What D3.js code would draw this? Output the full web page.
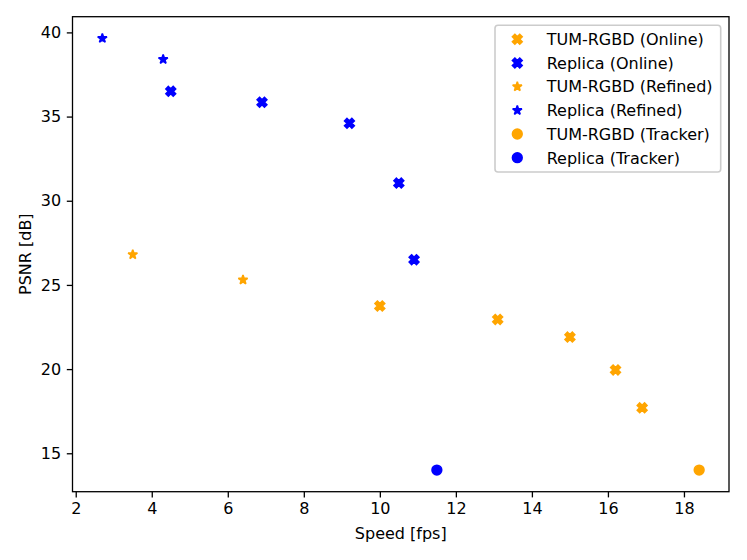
<!DOCTYPE html>
<html>
<head>
<meta charset="utf-8">
<script src="https://cdn.jsdelivr.net/npm/d3@7"></script>
<style>
  body { margin: 0; background: #fff; }
  svg { display: block; font-family: "DejaVu Sans", sans-serif; }
</style>
</head>
<body>
<svg width="747" height="560"></svg>
<script>
// data
const tumOnlineSpeed = [10.0, 13.1, 15.0, 16.2, 16.9];
const tumOnlinePsnr = [23.75, 22.95, 21.9, 19.95, 17.7];
const replicaOnlineSpeed = [4.5, 6.9, 9.2, 10.5, 10.9];
const replicaOnlinePsnr = [36.5, 35.85, 34.6, 31.05, 26.5];
const tumRefinedSpeed = [3.5, 6.4];
const tumRefinedPsnr = [26.8, 25.3];
const replicaRefinedSpeed = [2.7, 4.3];
const replicaRefinedPsnr = [39.65, 38.4];
const tumTrackerSpeed = [18.4];
const tumTrackerPsnr = [14.0];
const replicaTrackerSpeed = [11.5];
const replicaTrackerPsnr = [14.0];

const xTicks = [2, 4, 6, 8, 10, 12, 14, 16, 18];
const yTicks = [15, 20, 25, 30, 35, 40];

const ORANGE = "#ffa500";
const BLUE = "#0000ff";

const series = [
  { name: "TUM-RGBD (Online)", xs: tumOnlineSpeed, ys: tumOnlinePsnr, color: ORANGE, marker: "x" },
  { name: "Replica (Online)", xs: replicaOnlineSpeed, ys: replicaOnlinePsnr, color: BLUE, marker: "x" },
  { name: "TUM-RGBD (Refined)", xs: tumRefinedSpeed, ys: tumRefinedPsnr, color: ORANGE, marker: "star" },
  { name: "Replica (Refined)", xs: replicaRefinedSpeed, ys: replicaRefinedPsnr, color: BLUE, marker: "star" },
  { name: "TUM-RGBD (Tracker)", xs: tumTrackerSpeed, ys: tumTrackerPsnr, color: ORANGE, marker: "circle" },
  { name: "Replica (Tracker)", xs: replicaTrackerSpeed, ys: replicaTrackerPsnr, color: BLUE, marker: "circle" }
];

const svg = d3.select("svg");
const plotLeft = 72.5, plotRight = 729, plotTop = 16.7, plotBottom = 491.7;
const fontSize = 16;
const ms = 9.72;      // 6pt marker at ~117 dpi
const edge = 1.6;

// matplotlib-like 5% margins
const allX = series.flatMap(s => s.xs);
const allY = series.flatMap(s => s.ys);
const [x0, x1] = d3.extent(allX);
const [y0, y1] = d3.extent(allY);
const mx = (x1 - x0) * 0.05, my = (y1 - y0) * 0.05;

const x = d3.scaleLinear().domain([x0 - mx, x1 + mx]).range([plotLeft, plotRight]);
const y = d3.scaleLinear().domain([y0 - my, y1 + my]).range([plotBottom, plotTop]);

function markerPath(kind) {
  if (kind === "x") {
    const v = [[-1, -2], [0, -1], [1, -2], [2, -1], [1, 0], [2, 1],
               [1, 2], [0, 1], [-1, 2], [-2, 1], [-1, 0], [-2, -1]];
    return "M" + v.map(p => [p[0] / 4 * ms, p[1] / 4 * ms].join(",")).join("L") + "Z";
  }
  if (kind === "star") {
    const pts = [];
    for (let i = 0; i < 10; i++) {
      const r = (i % 2 === 0 ? 1 : 0.381966) * ms / 2;
      const a = Math.PI / 2 + i * Math.PI / 5;
      pts.push([r * Math.cos(a), -r * Math.sin(a)]);
    }
    return "M" + pts.map(p => p.join(",")).join("L") + "Z";
  }
  const r = ms / 2;
  return `M${r},0A${r},${r} 0 1,1 ${-r},0A${r},${r} 0 1,1 ${r},0Z`;
}

// axes
const xAxis = d3.axisBottom(x).tickValues(xTicks).tickSize(5.7).tickPadding(5.7).tickFormat(d3.format("d"));
const yAxis = d3.axisLeft(y).tickValues(yTicks).tickSize(5.7).tickPadding(5.7).tickFormat(d3.format("d"));

const gx = svg.append("g").attr("transform", `translate(0,${plotBottom})`).call(xAxis);
const gy = svg.append("g").attr("transform", `translate(${plotLeft},0)`).call(yAxis);
[gx, gy].forEach(g => {
  g.select(".domain").remove();
  g.selectAll(".tick line").attr("stroke", "#000").attr("stroke-width", 1.3);
  g.selectAll(".tick text").attr("fill", "#000").style("font-size", fontSize + "px")
    .style("font-family", "DejaVu Sans");
});

// points
series.forEach(s => {
  svg.append("g")
    .selectAll("path")
    .data(s.xs.map((v, i) => [v, s.ys[i]]))
    .join("path")
    .attr("d", markerPath(s.marker))
    .attr("transform", d => `translate(${x(d[0])},${y(d[1])})`)
    .attr("fill", s.color)
    .attr("stroke", s.color)
    .attr("stroke-width", edge)
    .attr("stroke-linejoin", s.marker === "star" ? "bevel" : "miter");
});

// frame
svg.append("rect")
  .attr("x", plotLeft).attr("y", plotTop)
  .attr("width", plotRight - plotLeft).attr("height", plotBottom - plotTop)
  .attr("fill", "none").attr("stroke", "#000").attr("stroke-width", 1.3);

// labels
svg.append("text")
  .attr("x", (plotLeft + plotRight) / 2).attr("y", 539)
  .attr("text-anchor", "middle").style("font-size", fontSize + "px")
  .text("Speed [fps]");

svg.append("text")
  .attr("transform", `translate(31,${(plotTop + plotBottom) / 2}) rotate(-90)`)
  .attr("text-anchor", "middle").style("font-size", fontSize + "px")
  .text("PSNR [dB]");

// legend
const lg = svg.append("g");
lg.append("rect")
  .attr("x", 495).attr("y", 25.3)
  .attr("width", 225.7).attr("height", 146.7)
  .attr("rx", 3).attr("ry", 3)
  .attr("fill", "#fff").attr("fill-opacity", 0.8)
  .attr("stroke", "#cccccc").attr("stroke-width", 1.6);

const rowY = d3.scaleLinear().domain([0, series.length - 1]).range([39.3, 157.7]);

series.forEach((s, i) => {
  lg.append("path")
    .attr("d", markerPath(s.marker))
    .attr("transform", `translate(517.3,${rowY(i)})`)
    .attr("fill", s.color).attr("stroke", s.color).attr("stroke-width", edge)
    .attr("stroke-linejoin", s.marker === "star" ? "bevel" : "miter");
  lg.append("text")
    .attr("x", 546.7).attr("y", rowY(i) + 5.8)
    .style("font-size", fontSize + "px")
    .text(s.name);
});
</script>
</body>
</html>
